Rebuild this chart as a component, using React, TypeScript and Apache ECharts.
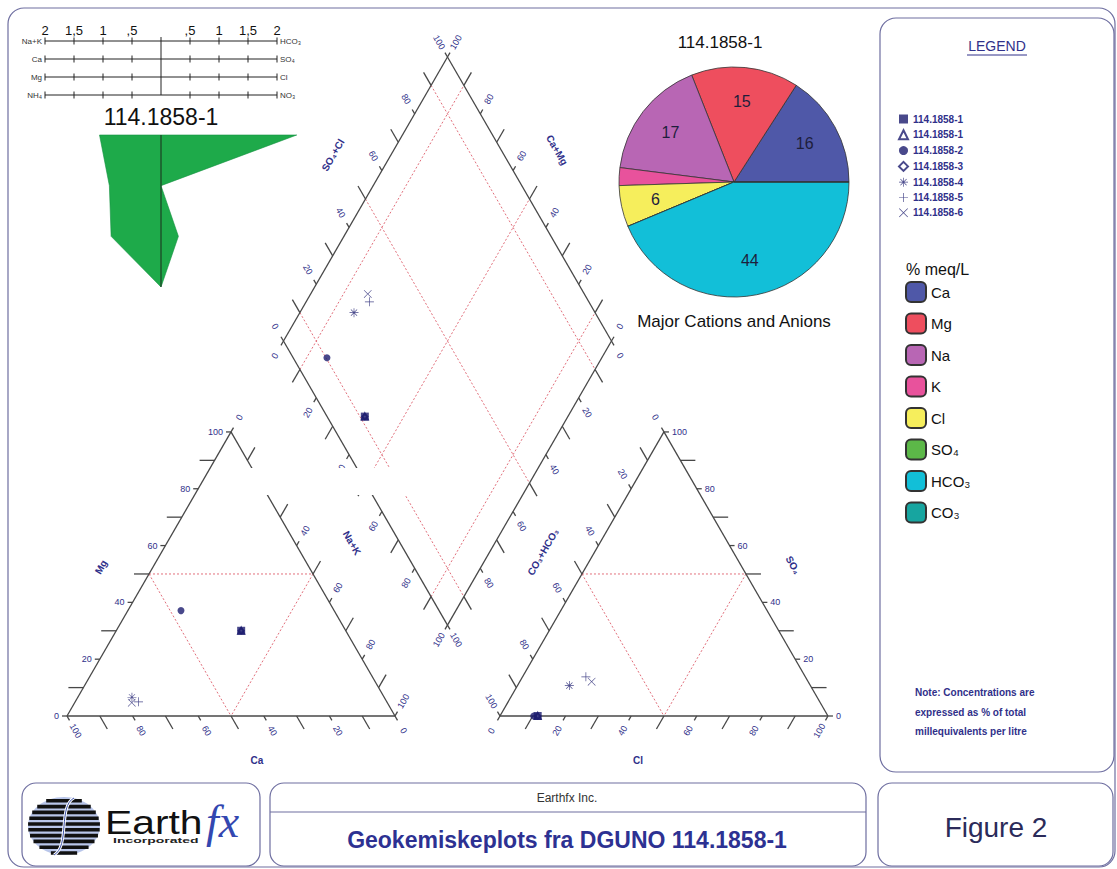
import React, { useEffect, useRef } from "react";
import * as echarts from "echarts";

const W = 1117;
const H = 869;
const FF = '"Liberation Sans", Arial, Helvetica, sans-serif';
const NAVY = "#30308a";
const LINE = "#474747";
const FRAME = "#6e6ea0";
const RED = "#e2707c";

// ---------- Piper samples (% meq/L) ----------
const sampleNames = ["114.1858-1", "114.1858-1 ", "114.1858-2", "114.1858-3", "114.1858-4", "114.1858-5", "114.1858-6"];
const caPct = [31.9, 31.9, 46.7, 31.9, 76.9, 75.7, 77.9];
const mgPct = [30.0, 30.0, 37.1, 30.0, 6.6, 5.0, 4.7];
const nakPct = [38.1, 38.1, 16.2, 38.1, 16.5, 19.3, 17.4];
const clPct = [11.5, 11.5, 10.3, 11.5, 15.8, 19.3, 21.9];
const so4Pct = [0.0, 0.0, 0.0, 0.0, 10.7, 13.8, 12.1];
const hco3Pct = [88.5, 88.5, 89.7, 88.5, 73.5, 66.9, 66.0];

// ---------- Pie (major cations and anions, % meq/L) ----------
const pieNames = ["Ca", "Mg", "Na", "K", "Cl", "SO₄", "HCO₃", "CO₃"];
const pieValues = [15.9, 15.1, 17.0, 2.5, 5.8, 0, 43.7, 0];
const pieColors = ["#4f58a8", "#ee4e5e", "#b866b4", "#e8529c", "#f6ee5c", "#5cb848", "#12bfd8", "#17a5a0"];

// ---------- Stiff diagram (meq/L) ----------
const stiffCations = ["Na+K", "Ca", "Mg", "NH₄"];
const stiffAnions = ["HCO₃", "SO₄", "Cl", "NO₃"];
const cationMeq = [1.06, 0.89, 0.86, 0];
const anionMeq = [2.34, 0, 0.3, 0];
const stiffTicks = [-2, -1.5, -1, -0.5, 0, 0.5, 1, 1.5, 2];

// ---------- Piper tick values ----------
const piperTicks = [0, 10, 20, 30, 40, 50, 60, 70, 80, 90, 100];
const piperLabels = [0, 20, 40, 60, 80, 100];

// ---------- geometry (piper units: triangle side = 100) ----------
const S3 = Math.sqrt(3) / 2;
const GAP = 32;
const RX0 = 100 + GAP;
const DB: [number, number] = [100 + GAP / 2, (GAP / 2) * Math.sqrt(3)];
const DL: [number, number] = [DB[0] - 50, DB[1] + 100 * S3];
const K = 3.28;
const OX = 67;
const OY = 716;

const leftTri = (ca: number, mg: number, nak: number): [number, number] => [nak + mg / 2, mg * S3];
const rightTri = (hco3: number, so4: number, cl: number): [number, number] => [RX0 + cl + so4 / 2, so4 * S3];
const dia = (n: number, a: number): [number, number] => [DL[0] + 0.5 * (n + a), DL[1] + S3 * (a - n)];

const R60 = Math.PI / 3;
type Ax = { pt: (v: number) => [number, number]; dir: [number, number]; rot: number; align: string };
const piperAxes: Ax[] = [
  { pt: (v) => leftTri(v, 0, 100 - v), dir: [0.5, -S3], rot: -R60, align: "center" },
  { pt: (v) => leftTri(100 - v, v, 0), dir: [-1, 0], rot: 0, align: "right" },
  { pt: (v) => leftTri(0, 100 - v, v), dir: [0.5, S3], rot: R60, align: "center" },
  { pt: (v) => rightTri(100 - v, 0, v), dir: [-0.5, -S3], rot: R60, align: "center" },
  { pt: (v) => rightTri(0, v, 100 - v), dir: [1, 0], rot: 0, align: "left" },
  { pt: (v) => rightTri(v, 100 - v, 0), dir: [-0.5, S3], rot: -R60, align: "center" },
  { pt: (v) => dia(0, v), dir: [-0.5, S3], rot: -R60, align: "center" },
  { pt: (v) => dia(100 - v, 100), dir: [0.5, S3], rot: R60, align: "center" },
  { pt: (v) => dia(v, 0), dir: [-0.5, -S3], rot: R60, align: "center" },
  { pt: (v) => dia(100, 100 - v), dir: [0.5, -S3], rot: -R60, align: "center" },
];

const seg = (a: [number, number], b: [number, number]) => [a[0], a[1], b[0], b[1]];
const edgeSegs = [
  seg(leftTri(100, 0, 0), leftTri(0, 0, 100)),
  seg(leftTri(0, 0, 100), leftTri(0, 100, 0)),
  seg(leftTri(0, 100, 0), leftTri(100, 0, 0)),
  seg(rightTri(100, 0, 0), rightTri(0, 0, 100)),
  seg(rightTri(0, 0, 100), rightTri(0, 100, 0)),
  seg(rightTri(0, 100, 0), rightTri(100, 0, 0)),
  seg(dia(0, 0), dia(0, 100)),
  seg(dia(0, 100), dia(100, 100)),
  seg(dia(100, 100), dia(100, 0)),
  seg(dia(100, 0), dia(0, 0)),
];
const dashSegs = [
  seg(leftTri(50, 50, 0), leftTri(0, 50, 50)),
  seg(leftTri(50, 50, 0), leftTri(50, 0, 50)),
  seg(leftTri(0, 50, 50), leftTri(50, 0, 50)),
  seg(rightTri(50, 50, 0), rightTri(0, 50, 50)),
  seg(rightTri(50, 50, 0), rightTri(50, 0, 50)),
  seg(rightTri(0, 50, 50), rightTri(50, 0, 50)),
  ...[10, 50, 90].map((v) => seg(dia(v, 0), dia(v, 100))),
  ...[10, 50, 90].map((v) => seg(dia(0, v), dia(100, v))),
];

type Tick = { p: [number, number]; dir: [number, number]; len: number };
const tickSpecs: Tick[] = [];
type Lab = { p: [number, number]; dir: [number, number]; rot: number; align: string; text: string };
const labelSpecs: Lab[] = [];
piperAxes.forEach((ax) => {
  piperTicks.forEach((v) => tickSpecs.push({ p: ax.pt(v), dir: ax.dir, len: v % 20 === 0 ? 5 : 15 }));
  piperLabels.forEach((v) => labelSpecs.push({ p: ax.pt(v), dir: ax.dir, rot: ax.rot, align: ax.align, text: String(v) }));
});

const symbols = [
  "rect",
  "emptyTriangle",
  "circle",
  "emptyDiamond",
  "path://M9.25,0h1.5v9.25h9.25v1.5h-9.25v9.25h-1.5v-9.25h-9.25v-1.5h9.25z M2.6,3.6L3.6,2.6L17.4,16.4L16.4,17.4Z M16.4,2.6L17.4,3.6L3.6,17.4L2.6,16.4Z",
  "path://M9.25,0h1.5v9.25h9.25v1.5h-9.25v9.25h-1.5v-9.25h-9.25v-1.5h9.25z",
  "path://M1.1,0L10,8.9L18.9,0L20,1.1L11.1,10L20,18.9L18.9,20L10,11.1L1.1,20L0,18.9L8.9,10L0,1.1Z",
];
const symbolSizes = [8, 6, 7, 5, 9, 9, 8];
const legendSizes = [8, 9, 8, 8, 9, 9, 8];
const symbolZ = [6, 4, 5, 4, 5, 5, 5];

function txt(x: number, y: number, text: string, o: any = {}) {
  const align = o.align || "center";
  return {
    type: "text",
    x,
    y,
    rotation: o.rotation || 0,
    scaleX: o.scaleX || 1,
    z: o.z || 10,
    silent: true,
    style: {
      text,
      fill: o.fill || "#111",
      fontSize: o.size || 12,
      fontFamily: o.family || FF,
      fontWeight: o.weight || "normal",
      fontStyle: o.style || "normal",
      align,
      textAlign: align,
      verticalAlign: "middle",
      textVerticalAlign: "middle",
    },
  };
}

function lineShape(a: number[], b: number[], style: any) {
  return { type: "line", shape: { x1: a[0], y1: a[1], x2: b[0], y2: b[1] }, style };
}

function buildOption(): any {
  const globeStripes: any[] = [];
  for (let k = 0; k < 10; k++) {
    const y = 799 + k * 5.8;
    const dy = y + 1.8 - 826;
    const f = 1 - (dy / 29) * (dy / 29);
    if (f <= 0) continue;
    const w = 2 * 36 * Math.sqrt(f);
    globeStripes.push({ type: "rect", shape: { x: 64 - w / 2, y, width: w, height: 3.6 }, style: { fill: "#111" }, z: 11, silent: true });
  }

  const graphic: any[] = [
    { type: "rect", shape: { x: 8, y: 8, width: 1107, height: 859, r: 16 }, style: { fill: "none", stroke: FRAME, lineWidth: 1.2 }, silent: true, z: 0 },
    { type: "rect", shape: { x: 880, y: 18, width: 234, height: 754, r: 16 }, style: { fill: "none", stroke: FRAME, lineWidth: 1.2 }, silent: true, z: 0 },
    { type: "rect", shape: { x: 22, y: 783, width: 238, height: 83, r: 14 }, style: { fill: "none", stroke: FRAME, lineWidth: 1.2 }, silent: true, z: 0 },
    { type: "rect", shape: { x: 270, y: 783, width: 596, height: 83, r: 14 }, style: { fill: "none", stroke: FRAME, lineWidth: 1.2 }, silent: true, z: 0 },
    { type: "line", shape: { x1: 270, y1: 812, x2: 866, y2: 812 }, style: { stroke: FRAME, lineWidth: 1.2 }, silent: true, z: 0 },
    { type: "rect", shape: { x: 878, y: 783, width: 235, height: 83, r: 14 }, style: { fill: "none", stroke: FRAME, lineWidth: 1.2 }, silent: true, z: 0 },
    // white band in the original image
    { type: "rect", shape: { x: 245, y: 468, width: 168, height: 27 }, style: { fill: "#fff" }, silent: true, z: 100 },
    // legend box texts
    txt(997, 46, "LEGEND", { size: 14, fill: NAVY }),
    { type: "line", shape: { x1: 967, y1: 55, x2: 1027, y2: 55 }, style: { stroke: NAVY, lineWidth: 1 }, silent: true, z: 10 },
    txt(906, 269, "% meq/L", { size: 16, align: "left" }),
    txt(915, 692, "Note: Concentrations are", { size: 10, weight: "bold", fill: NAVY, align: "left" }),
    txt(915, 712, "expressed as % of total", { size: 10, weight: "bold", fill: NAVY, align: "left" }),
    txt(915, 731, "millequivalents per litre", { size: 10, weight: "bold", fill: NAVY, align: "left" }),
    // bottom titles
    txt(567, 798, "Earthfx Inc.", { size: 12, fill: "#333" }),
    txt(567, 840, "Geokemiskeplots fra DGUNO 114.1858-1", { size: 23, weight: "bold", fill: "#2d3192" }),
    txt(996, 827, "Figure 2", { size: 28, fill: "#2b2b5a" }),
    // logo
    { type: "ellipse", shape: { cx: 64, cy: 826, rx: 36, ry: 29 }, style: { fill: "#b9c6ea" }, silent: true, z: 10 },
    ...globeStripes,
    { type: "bezierCurve", shape: { x1: 74, y1: 798, cpx1: 58, cpy1: 806, cpx2: 70, cpy2: 846, x2: 54, y2: 855 }, style: { stroke: "#fff", lineWidth: 3, fill: "none" }, silent: true, z: 12 },
    { type: "bezierCurve", shape: { x1: 74, y1: 798, cpx1: 58, cpy1: 806, cpx2: 70, cpy2: 846, x2: 54, y2: 855 }, style: { stroke: "#3a50a8", lineWidth: 1, fill: "none" }, silent: true, z: 13 },
    txt(105, 822, "Earth", { size: 34, align: "left", scaleX: 1.2, fill: "#111" }),
    txt(113, 840, "Incorporated", { size: 8, weight: "bold", align: "left", scaleX: 1.75, fill: "#222" }),
    txt(206, 821, "fx", { size: 46, align: "left", style: "italic", family: '"Liberation Serif", "DejaVu Serif", serif', fill: "#3347b0" }),
    // stiff + pie titles
    txt(161, 117, "114.1858-1", { size: 23 }),
    txt(720, 42, "114.1858-1", { size: 17 }),
    txt(734, 321, "Major Cations and Anions", { size: 17 }),
    // piper axis titles
    txt(101, 567, "Mg", { size: 10, weight: "bold", fill: NAVY, rotation: R60 }),
    txt(257, 760, "Ca", { size: 10, weight: "bold", fill: NAVY }),
    txt(352, 543, "Na+K", { size: 10, weight: "bold", fill: NAVY, rotation: -R60 }),
    txt(333, 155, "SO₄+Cl", { size: 10, weight: "bold", fill: NAVY, rotation: R60 }),
    txt(557, 150, "Ca+Mg", { size: 10, weight: "bold", fill: NAVY, rotation: -R60 }),
    txt(543, 552, "CO₃+HCO₃", { size: 10, weight: "bold", fill: NAVY, rotation: R60 }),
    txt(793, 565, "SO₄", { size: 10, weight: "bold", fill: NAVY, rotation: -R60 }),
    txt(638, 760, "Cl", { size: 10, weight: "bold", fill: NAVY }),
  ];

  const series: any[] = [];

  series.push({
    type: "custom",
    name: "edges",
    xAxisIndex: 0,
    yAxisIndex: 0,
    silent: true,
    z: 2,
    data: edgeSegs,
    renderItem: (params: any, api: any) => {
      const s = edgeSegs[params.dataIndex];
      return lineShape(api.coord([s[0], s[1]]), api.coord([s[2], s[3]]), { stroke: LINE, lineWidth: 1.3 });
    },
  });
  series.push({
    type: "custom",
    name: "dashes",
    xAxisIndex: 0,
    yAxisIndex: 0,
    silent: true,
    z: 1,
    data: dashSegs,
    renderItem: (params: any, api: any) => {
      const s = dashSegs[params.dataIndex];
      return lineShape(api.coord([s[0], s[1]]), api.coord([s[2], s[3]]), { stroke: RED, lineWidth: 1, lineDash: [2, 2] });
    },
  });
  series.push({
    type: "custom",
    name: "ticks",
    xAxisIndex: 0,
    yAxisIndex: 0,
    silent: true,
    z: 2,
    data: tickSpecs.map((t) => t.p),
    renderItem: (params: any, api: any) => {
      const t = tickSpecs[params.dataIndex];
      const p = api.coord(t.p);
      return lineShape(p, [p[0] + t.dir[0] * t.len, p[1] - t.dir[1] * t.len], { stroke: LINE, lineWidth: 1.3 });
    },
  });
  series.push({
    type: "custom",
    name: "tickLabels",
    xAxisIndex: 0,
    yAxisIndex: 0,
    silent: true,
    z: 2,
    data: labelSpecs.map((l) => l.p),
    renderItem: (params: any, api: any) => {
      const l = labelSpecs[params.dataIndex];
      const p = api.coord(l.p);
      const d = l.align === "center" ? 17 : 8;
      return {
        type: "text",
        x: p[0] + l.dir[0] * d,
        y: p[1] - l.dir[1] * d,
        rotation: l.rot,
        style: {
          text: l.text,
          fill: NAVY,
          fontSize: 9,
          fontFamily: FF,
          align: l.align,
          textAlign: l.align,
          verticalAlign: "middle",
          textVerticalAlign: "middle",
        },
      };
    },
  });

  sampleNames.forEach((name, i) => {
    const empty = symbols[i].startsWith("empty");
    series.push({
      type: "scatter",
      name,
      xAxisIndex: 0,
      yAxisIndex: 0,
      symbol: symbols[i],
      symbolSize: symbolSizes[i],
      silent: true,
      z: symbolZ[i],
      itemStyle: empty ? { color: "#1c1c6e", borderColor: "#1c1c6e", borderWidth: 1 } : { color: "#1c1c6e" },
      data: [
        leftTri(caPct[i], mgPct[i], nakPct[i]),
        rightTri(hco3Pct[i], so4Pct[i], clPct[i]),
        dia(nakPct[i], so4Pct[i] + clPct[i]),
      ],
    });
  });

  // Stiff axis rows
  series.push({
    type: "custom",
    name: "stiffRows",
    xAxisIndex: 1,
    yAxisIndex: 1,
    silent: true,
    z: 3,
    data: stiffCations.map((_, i) => [0, i]),
    renderItem: (params: any, api: any) => {
      const i = params.dataIndex;
      const st = { stroke: "#222", lineWidth: 1 };
      const a = api.coord([-2, i]);
      const b = api.coord([2, i]);
      const children: any[] = [lineShape(a, b, st)];
      stiffTicks.forEach((t) => {
        if (t === 0) return;
        const p = api.coord([t, i]);
        children.push(lineShape([p[0], p[1] - 3.5], [p[0], p[1] + 3.5], st));
      });
      children.push({
        type: "text",
        x: a[0] - 3,
        y: a[1],
        style: { text: stiffCations[i], fill: "#333", fontSize: 8, fontFamily: FF, align: "right", textAlign: "right", verticalAlign: "middle", textVerticalAlign: "middle" },
      });
      children.push({
        type: "text",
        x: b[0] + 3,
        y: b[1],
        style: { text: stiffAnions[i], fill: "#333", fontSize: 8, fontFamily: FF, align: "left", textAlign: "left", verticalAlign: "middle", textVerticalAlign: "middle" },
      });
      if (i === 0) {
        children.push(lineShape(api.coord([0, -0.22]), api.coord([0, 3]), st));
      }
      return { type: "group", children };
    },
  });

  // Stiff polygon
  series.push({
    type: "custom",
    name: "stiffPolygon",
    xAxisIndex: 2,
    yAxisIndex: 2,
    silent: true,
    z: 3,
    data: [[0, 0]],
    renderItem: (params: any, api: any) => {
      const pts = [
        ...cationMeq.map((v, i) => api.coord([-v, i])),
        ...anionMeq.map((v, i) => api.coord([v, i])).reverse(),
      ];
      return {
        type: "group",
        children: [
          { type: "polygon", shape: { points: pts }, style: { fill: "#1eaa4a", stroke: "#139040", lineWidth: 0.6 } },
          lineShape(api.coord([0, 0]), api.coord([0, 3]), { stroke: "#1a2a1a", lineWidth: 1 }),
        ],
      };
    },
  });

  // Pie
  series.push({
    type: "pie",
    name: "ions",
    center: [734, 182],
    radius: 115,
    startAngle: 0,
    clockwise: false,
    silent: true,
    avoidLabelOverlap: false,
    label: { show: false },
    labelLine: { show: false },
    emphasis: { disabled: true },
    itemStyle: { borderColor: "#333", borderWidth: 0.8 },
    data: pieNames.map((n, i) => ({ name: n, value: pieValues[i], itemStyle: { color: pieColors[i] } })),
  });
  series.push({
    type: "pie",
    name: "ionLabels",
    center: [734, 182],
    radius: [40, 115],
    startAngle: 0,
    clockwise: false,
    silent: true,
    avoidLabelOverlap: false,
    emphasis: { disabled: true },
    itemStyle: { color: "rgba(0,0,0,0)", borderWidth: 0 },
    label: {
      show: true,
      position: "inside",
      fontSize: 16,
      fontFamily: FF,
      color: "#1e1e3c",
      formatter: (p: any) => (p.value >= 5 ? String(Math.round(p.value)) : ""),
    },
    labelLine: { show: false },
    data: pieNames.map((n, i) => ({ name: n, value: pieValues[i] })),
  });

  return {
    animation: false,
    backgroundColor: "#fff",
    textStyle: { fontFamily: FF },
    graphic,
    grid: [
      { left: 0, top: 0, width: W, height: H, containLabel: false },
      { left: 45, top: 41, width: 232, height: 54, containLabel: false },
      { left: 45, top: 135, width: 232, height: 152, containLabel: false },
    ],
    xAxis: [
      { type: "value", gridIndex: 0, min: -OX / K, max: (W - OX) / K, show: false },
      {
        type: "value",
        gridIndex: 1,
        min: -2,
        max: 2,
        interval: 0.5,
        position: "top",
        axisLine: { show: false },
        axisTick: { show: false },
        splitLine: { show: false },
        axisLabel: {
          show: true,
          margin: 4,
          fontSize: 13,
          color: "#111",
          fontFamily: FF,
          showMinLabel: true,
          showMaxLabel: true,
          formatter: (v: number) => (v === 0 ? "" : String(Math.abs(v)).replace("0.", ".").replace(".", ",")),
        },
      },
      { type: "value", gridIndex: 2, min: -2, max: 2, show: false },
    ],
    yAxis: [
      { type: "value", gridIndex: 0, min: -(H - OY) / K, max: OY / K, show: false },
      { type: "value", gridIndex: 1, min: 0, max: 3, inverse: true, show: false },
      { type: "value", gridIndex: 2, min: 0, max: 3, inverse: true, show: false },
    ],
    legend: [
      {
        data: sampleNames.map((n, i) => ({ name: n, itemStyle: {} })),
        orient: "vertical",
        left: 898,
        top: 114,
        padding: 0,
        itemWidth: 9,
        itemHeight: 9,
        itemGap: 5.3,
        selectedMode: false,
        textStyle: { fontSize: 10, fontWeight: "bold", color: NAVY, fontFamily: FF, lineHeight: 9 },
      },
      {
        data: pieNames,
        orient: "vertical",
        left: 905,
        top: 281,
        padding: 0,
        icon: "roundRect",
        itemWidth: 20,
        itemHeight: 20,
        itemGap: 9.5,
        selectedMode: false,
        textStyle: { fontSize: 15, color: "#111", fontFamily: FF },
      },
    ],
    series,
  };
}

export default function App() {
  const ref = useRef<HTMLDivElement>(null);
  useEffect(() => {
    if (!ref.current) return;
    const chart = echarts.init(ref.current, undefined, { renderer: "svg", width: W, height: H });
    chart.setOption(buildOption());
    return () => chart.dispose();
  }, []);
  return <div ref={ref} style={{ position: "absolute", left: 0, top: 0, width: W, height: H, background: "#fff" }} />;
}
